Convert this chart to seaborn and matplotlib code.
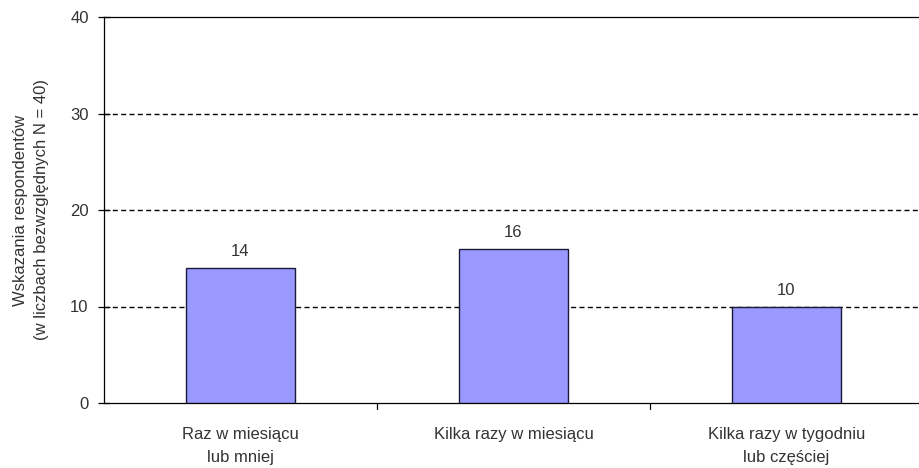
import matplotlib
matplotlib.use("Agg")
import matplotlib.pyplot as plt
import seaborn as sns
import pandas as pd

categories = ["Raz w miesiącu\nlub mniej", "Kilka razy w miesiącu", "Kilka razy w tygodniu\nlub częściej"]
counts = [14, 16, 10]
y_ticks = [0, 10, 20, 30, 40]

sns.set_theme(style="white")
plt.rcParams["font.family"] = ["Liberation Sans", "DejaVu Sans"]

df = pd.DataFrame({"kategoria": categories, "liczba": counts})

fig = plt.figure(figsize=(9.19, 4.68), dpi=100)
ax = fig.add_axes([104 / 919, 1 - 403 / 468, (923 - 104) / 919, (403 - 17) / 468])

sns.barplot(data=df, x="kategoria", y="liczba", color="#9999FF", width=0.4,
            edgecolor="#1a1a3a", linewidth=1.0, saturation=1, ax=ax, zorder=3)

ax.set_ylim(0, 40)
ax.set_xlim(-0.5, len(categories) - 0.5)
ax.set_yticks(y_ticks)
ax.set_yticklabels([str(t) for t in y_ticks], fontsize=12, color="#333333")

for yv in y_ticks[1:-1]:
    ax.axhline(yv, color="black", linestyle=(0, (3.6, 2.4)), linewidth=1.0, zorder=1)

for i, v in enumerate(counts):
    ax.text(i, v + 0.9, str(v), ha="center", va="bottom", fontsize=12, color="#333333")

# category labels centred in each slot, ticks on the slot boundaries
ax.set_xticks(range(len(categories)))
ax.set_xticklabels(categories, fontsize=12, color="#333333", linespacing=1.7)
ax.tick_params(axis="x", length=0, pad=17)
for b in [0.5, 1.5]:
    ax.plot([b, b], [0, -0.016], transform=ax.get_xaxis_transform(), color="black",
            linewidth=0.9, clip_on=False)
ax.tick_params(axis="y", direction="inout", length=8, width=0.9, color="black", left=True, pad=7)

ax.set_xlabel("")
ax.set_ylabel("Wskazania respondentów\n(w liczbach bezwzględnych N = 40)", fontsize=12,
              color="#333333", labelpad=15, linespacing=1.55)

for side in ["left", "bottom", "top"]:
    ax.spines[side].set_visible(True)
    ax.spines[side].set_color("black")
    ax.spines[side].set_linewidth(0.9)
ax.spines["right"].set_visible(False)

fig.savefig("out.png", dpi=100, facecolor="white")
